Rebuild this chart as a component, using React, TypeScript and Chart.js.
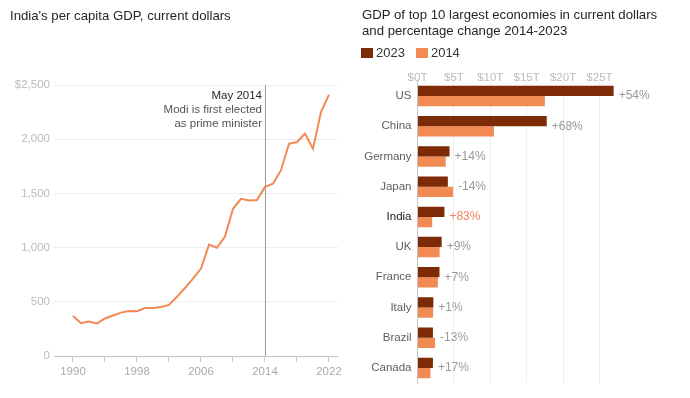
import React, { useEffect, useRef } from 'react';
import { Chart, registerables } from 'chart.js';

Chart.register(...registerables);

const FONT = '"Liberation Sans", Arial, sans-serif';
const DARK = '#7d2a07';
const ORANGE = '#f28a54';
const HIGHLIGHT_TEXT = '#f2845e';

// Left chart: India's per capita GDP (current USD)
const years = [1990, 1991, 1992, 1993, 1994, 1995, 1996, 1997, 1998, 1999, 2000, 2001, 2002, 2003, 2004, 2005, 2006, 2007, 2008, 2009, 2010, 2011, 2012, 2013, 2014, 2015, 2016, 2017, 2018, 2019, 2020, 2021, 2022];
const gdpPerCapita = [368, 303, 317, 301, 346, 374, 400, 415, 413, 442, 443, 452, 471, 546, 627, 714, 807, 1028, 999, 1102, 1358, 1450, 1434, 1438, 1560, 1590, 1714, 1958, 1974, 2050, 1913, 2250, 2411];
const xTickYears = [1990, 1994, 1998, 2002, 2006, 2010, 2014, 2018, 2022];
const labeledYears = [1990, 1998, 2006, 2014, 2022];
const yTicksGdp = [0, 500, 1000, 1500, 2000, 2500];
const annotationYear = 2014;
const annotationLines = ['May 2014', 'Modi is first elected', 'as prime minister'];

// Right chart: GDP of top 10 economies (trillions USD)
const countries = ['US', 'China', 'Germany', 'Japan', 'India', 'UK', 'France', 'Italy', 'Brazil', 'Canada'];
const gdp2023 = [26.95, 17.76, 4.4, 4.17, 3.7, 3.32, 3.02, 2.18, 2.12, 2.12];
const gdp2014 = [17.5, 10.5, 3.88, 4.88, 2.02, 3.04, 2.8, 2.14, 2.42, 1.78];
const pctChange = ['+54%', '+68%', '+14%', '-14%', '+83%', '+9%', '+7%', '+1%', '-13%', '+17%'];
const xTicksT = [0, 5, 10, 15, 20, 25];
const highlight = 'India';

const modiPlugin = {
  id: 'modi',
  beforeDatasetsDraw(chart: any) {
    const { ctx, chartArea, scales } = chart;
    const x = Math.round(scales.x.getPixelForValue(annotationYear)) + 0.5;
    ctx.save();
    ctx.strokeStyle = '#9a9a9a';
    ctx.lineWidth = 1;
    ctx.beginPath();
    ctx.moveTo(x, chartArea.top);
    ctx.lineTo(x, chartArea.bottom);
    ctx.stroke();
    ctx.restore();
  },
  afterDraw(chart: any) {
    const { ctx, chartArea, scales } = chart;
    const x = Math.round(scales.x.getPixelForValue(annotationYear)) - 3;
    ctx.save();
    ctx.textAlign = 'right';
    ctx.textBaseline = 'middle';
    ctx.font = `11.5px ${FONT}`;
    annotationLines.forEach((t, i) => {
      ctx.fillStyle = i === 0 ? '#262626' : '#555555';
      ctx.fillText(t, x, chartArea.top + 11 + i * 14);
    });
    ctx.restore();
  },
};

const pctPlugin = {
  id: 'pct',
  afterDatasetsDraw(chart: any) {
    const { ctx, scales } = chart;
    const m0 = chart.getDatasetMeta(0);
    const m1 = chart.getDatasetMeta(1);
    ctx.save();
    ctx.textAlign = 'left';
    ctx.textBaseline = 'middle';
    ctx.font = `12px ${FONT}`;
    countries.forEach((c, i) => {
      const xEnd = Math.max(m0.data[i].x, m1.data[i].x);
      const y = scales.y.getPixelForValue(i);
      ctx.fillStyle = c === highlight ? HIGHLIGHT_TEXT : '#999999';
      ctx.fillText(pctChange[i], xEnd + 5, y);
    });
    ctx.restore();
  },
};

export default function App() {
  const leftRef = useRef<HTMLCanvasElement>(null);
  const rightRef = useRef<HTMLCanvasElement>(null);

  useEffect(() => {
    const left = new Chart(leftRef.current!, {
      type: 'line',
      data: {
        datasets: [
          {
            data: years.map((yr, i) => ({ x: yr, y: gdpPerCapita[i] })),
            borderColor: ORANGE,
            borderWidth: 2,
            pointRadius: 0,
            tension: 0,
          },
        ],
      },
      options: {
        animation: false,
        responsive: false,
        layout: { padding: { top: 85, right: 7, left: 0, bottom: 0 } },
        plugins: { legend: { display: false }, tooltip: { enabled: false } },
        scales: {
          x: {
            type: 'linear',
            min: 1987.625,
            max: 2023.125,
            afterBuildTicks: (s: any) => {
              s.ticks = xTickYears.map((v) => ({ value: v }));
            },
            afterFit: (s: any) => {
              s.height = 42;
            },
            grid: { drawOnChartArea: false, drawTicks: true, tickLength: 6, color: '#cccccc' },
            border: { display: true, color: '#c4c4c4' },
            ticks: {
              callback: (v: any) => (labeledYears.includes(v) ? String(v) : ''),
              color: '#aaaaaa',
              font: { family: FONT, size: 11.5 },
              padding: 3,
              maxRotation: 0,
              autoSkip: false,
            },
          },
          y: {
            min: 0,
            max: 2500,
            afterBuildTicks: (s: any) => {
              s.ticks = yTicksGdp.map((v) => ({ value: v }));
            },
            afterFit: (s: any) => {
              s.width = 54;
            },
            grid: { color: '#eeeeee', drawTicks: false },
            border: { display: false },
            ticks: {
              callback: (v: any) => (v === 2500 ? '$2,500' : Number(v).toLocaleString('en-US')),
              color: '#bbbbbb',
              font: { family: FONT, size: 11.5 },
              padding: 4,
            },
          },
        },
      },
      plugins: [modiPlugin],
    });

    const right = new Chart(rightRef.current!, {
      type: 'bar',
      data: {
        labels: countries,
        datasets: [
          { label: '2023', data: gdp2023, backgroundColor: DARK },
          { label: '2014', data: gdp2014, backgroundColor: ORANGE },
        ],
      },
      options: {
        indexAxis: 'y',
        animation: false,
        responsive: false,
        layout: { padding: { top: 0, right: 76, bottom: 15, left: 0 } },
        datasets: { bar: { categoryPercentage: 0.68, barPercentage: 1 } },
        plugins: { legend: { display: false }, tooltip: { enabled: false } },
        scales: {
          x: {
            position: 'top',
            min: 0,
            max: 27,
            afterBuildTicks: (s: any) => {
              s.ticks = xTicksT.map((v) => ({ value: v }));
            },
            afterFit: (s: any) => {
              s.height = 81;
            },
            grid: { color: '#eeeeee', drawTicks: false },
            border: { display: false },
            ticks: {
              callback: (v: any) => `$${v}T`,
              color: '#bbbbbb',
              font: { family: FONT, size: 11.5 },
              padding: -4,
              maxRotation: 0,
            },
          },
          y: {
            afterFit: (s: any) => {
              s.width = 72.5;
            },
            grid: { drawOnChartArea: false, drawTicks: false, color: 'transparent' },
            border: { display: true, color: '#c4c4c4' },
            ticks: {
              color: (ctx: any) => (countries[ctx.index] === highlight ? '#1a1a1a' : '#5e5e5e'),
              font: (ctx: any) => ({
                family: FONT,
                size: 11.5,
                weight: countries[ctx.index] === highlight ? '500' : 'normal',
              }),
              padding: 6,
            },
          },
        },
      },
      plugins: [pctPlugin],
    });

    return () => {
      left.destroy();
      right.destroy();
    };
  }, []);

  const sq = (c: string) => (
    <span style={{ display: 'inline-block', width: 12, height: 10, background: c, marginRight: 3, verticalAlign: -1 }} />
  );

  return (
    <div style={{ position: 'absolute', left: 0, top: 0, width: 690, height: 398, background: '#fff', fontFamily: FONT, overflow: 'hidden' }}>
      <canvas ref={leftRef} width={345} height={398} style={{ position: 'absolute', left: 0, top: 0 }} />
      <canvas ref={rightRef} width={345} height={398} style={{ position: 'absolute', left: 345, top: 0 }} />
      <div style={{ position: 'absolute', left: 10, top: 7, fontSize: 13.2, lineHeight: '18px', color: '#262626' }}>
        India's per capita GDP, current dollars
      </div>
      <div style={{ position: 'absolute', left: 362, top: 7, fontSize: 13.2, lineHeight: '16px', color: '#262626' }}>
        GDP of top 10 largest economies in current dollars
        <br />
        and percentage change 2014-2023
      </div>
      <div style={{ position: 'absolute', left: 361, top: 45, fontSize: 13, lineHeight: '16px', color: '#333' }}>
        {sq(DARK)}2023
        <span style={{ display: 'inline-block', width: 11 }} />
        {sq(ORANGE)}2014
      </div>
    </div>
  );
}
